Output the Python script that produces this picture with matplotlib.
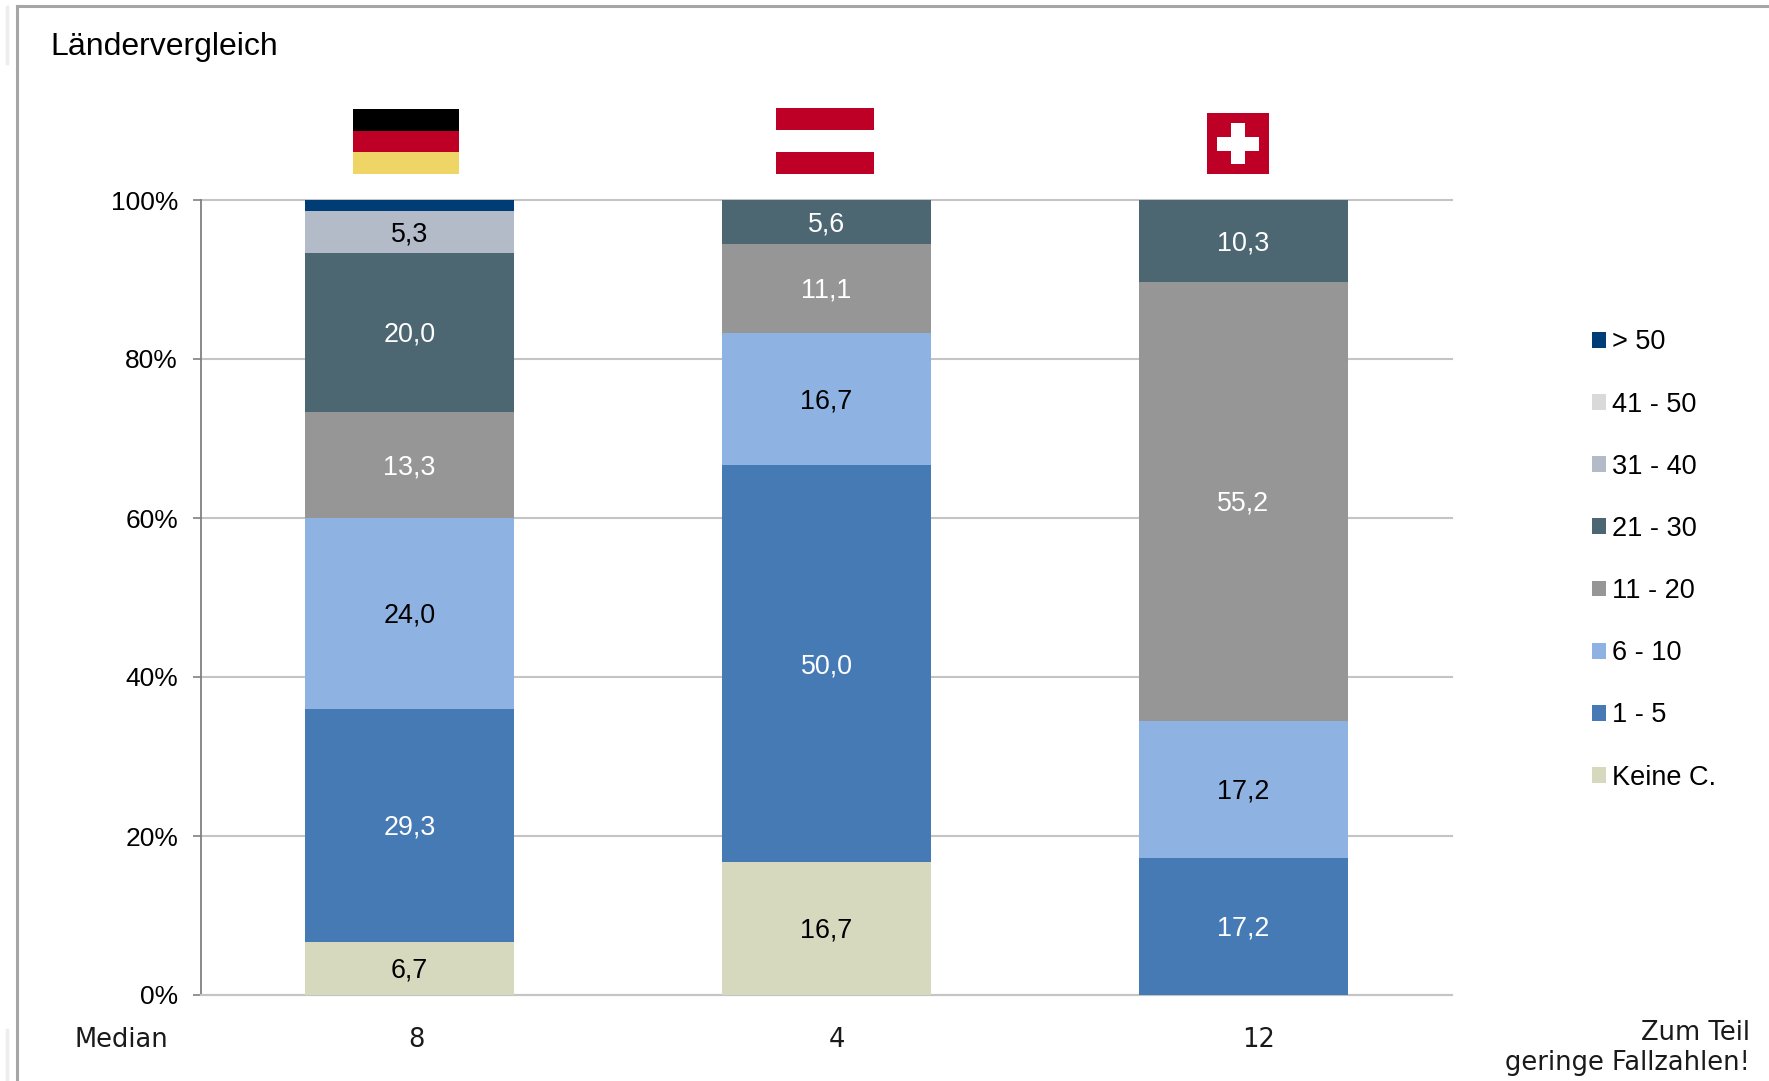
import matplotlib
matplotlib.use("Agg")
import matplotlib.pyplot as plt
from matplotlib.patches import Rectangle
from matplotlib.lines import Line2D

W, H = 1769, 1081
plt.rcParams['font.family'] = ['Liberation Sans', 'DejaVu Sans']

title = "Ländervergleich"
countries = ["Deutschland", "Österreich", "Schweiz"]
medians = ["8", "4", "12"]
series = ["Keine C.", "1 - 5", "6 - 10", "11 - 20", "21 - 30", "31 - 40", "41 - 50", "> 50"]
keine = [6.7, 16.7, 0]
v1_5 = [29.3, 50.0, 17.2]
v6_10 = [24.0, 16.7, 17.2]
v11_20 = [13.3, 11.1, 55.2]
v21_30 = [20.0, 5.6, 10.3]
v31_40 = [5.3, 0, 0]
v41_50 = [0, 0, 0]
v50 = [1.4, 0, 0]
values = [keine, v1_5, v6_10, v11_20, v21_30, v31_40, v41_50, v50]
colors = ["#D7D9BF", "#467AB5", "#8EB3E3", "#969696", "#4C6672", "#B3BAC8", "#D9D9D9", "#003C75"]
label_colors = ["black", "white", "black", "white", "white", "black", "black", "white"]
unlabelled_below = 2


def fx(x):
    return x / W


def fy(y):
    return 1 - y / H


fig = plt.figure(figsize=(W / 100, H / 100), dpi=100, facecolor="white")
L, R, T, B = 201, 1452, 200, 995
ax = fig.add_axes([fx(L), fy(B), fx(R - L), (B - T) / H])

x = list(range(len(countries)))
totals = [sum(col) for col in zip(*values)]
bottom = [0.0] * len(x)
handles = []
for name, vals, col, lc in zip(series, values, colors, label_colors):
    shares = [v / t * 100 for v, t in zip(vals, totals)]
    bars = ax.bar(x, shares, width=0.5, bottom=bottom, color=col, zorder=3, label=name)
    handles.append(bars)
    for xi, v, s, b in zip(x, vals, shares, bottom):
        if v >= unlabelled_below:
            ax.annotate(f"{v:.1f}".replace(".", ","), (xi, b + s / 2), xytext=(0, -1.6),
                        textcoords="offset points", ha="center", va="center",
                        color=lc, fontsize=19.4, zorder=4)
    bottom = [b + s for b, s in zip(bottom, shares)]

ax.set_xlim(-0.5, 2.5)
ax.set_ylim(0, 100)
ax.set_yticks(range(0, 101, 20))
ax.set_yticklabels([f"{t}%" for t in range(0, 101, 20)], fontsize=19)
ax.tick_params(axis="y", length=6, width=1.2, color="#808080", pad=10.5)
ax.tick_params(axis="x", length=0, labelbottom=False)
ax.grid(axis="y", color="#C4C4C4", linewidth=1.5, zorder=1, clip_on=False)
ax.set_axisbelow(True)
for s in ("top", "right"):
    ax.spines[s].set_visible(False)
ax.spines["left"].set_color("#808080")
ax.spines["left"].set_linewidth(1.3)
ax.spines["bottom"].set_color("#C4C4C4")
ax.spines["bottom"].set_linewidth(1.5)

leg = fig.legend(handles[::-1], series[::-1], loc="center left",
                 bbox_to_anchor=(fx(1592), fy(560)), frameon=False, fontsize=19.5,
                 handlelength=0.52, handleheight=0.52, handletextpad=0.22,
                 labelspacing=1.335, borderpad=0, borderaxespad=0)

fig.text(fx(50), fy(46.5), title, fontsize=23, ha="left", va="center")
small = dict(fontsize=18.5, va="center", family="DejaVu Sans", color="#1a1a1a")
fig.text(fx(121), fy(1040), "Median", ha="center", **small)
for xpos, m in zip((416, 837, 1259), medians):
    fig.text(fx(xpos), fy(1040), m, ha="center", **small)
fig.text(fx(1750), fy(1033), "Zum Teil", ha="right", **small)
fig.text(fx(1750), fy(1063), "geringe Fallzahlen!", ha="right", **small)


def rect(x0, y0, x1, y1, color):
    fig.add_artist(Rectangle((fx(x0), fy(y1)), fx(x1 - x0), (y1 - y0) / H,
                             transform=fig.transFigure, facecolor=color,
                             edgecolor="none", zorder=5))


# German flag
rect(353, 109, 459, 131, "#000000")
rect(353, 131, 459, 152.5, "#BE0027")
rect(353, 152.5, 459, 174, "#EFD466")
# Austrian flag
rect(776, 108, 874, 130, "#BE0027")
rect(776, 152, 874, 174, "#BE0027")
# Swiss flag
rect(1207, 113, 1269, 174, "#BE0027")
rect(1217, 137, 1259, 151, "white")
rect(1231, 123, 1245, 164, "white")

# Page frame
fig.add_artist(Line2D([fx(16.5), fx(16.5)], [0, fy(5.5)], color="#A6A6A6", lw=2.2))
fig.add_artist(Line2D([fx(16.5), 1], [fy(5.5), fy(5.5)], color="#A6A6A6", lw=2.2))
fig.add_artist(Line2D([fx(7), fx(7)], [fy(7), fy(63)], color="#EDEDED", lw=2.5))
fig.add_artist(Line2D([fx(7), fx(7)], [fy(1030), 0], color="#EDEDED", lw=2.5))

fig.savefig("out.png", dpi=100, facecolor="white")
